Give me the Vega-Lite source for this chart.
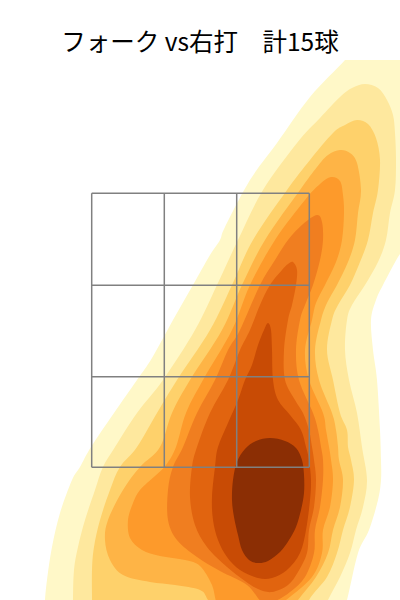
{
  "$schema": "https://vega.github.io/schema/vega-lite/v6.json",
  "width": 400,
  "height": 540,
  "autosize": {"type": "none"},
  "padding": {"top": 60, "left": 0, "right": 0, "bottom": 0},
  "background": "white",
  "config": {"view": {"stroke": null}},
  "title": {"text": "フォーク vs右打　計15球", "font": "Noto Sans CJK JP", "fontSize": 24.5, "fontWeight": "normal", "color": "#000000", "anchor": "middle", "frame": "group", "offset": 8, "baseline": "alphabetic", "dy": 23},
  "datasets": {
    "contours": [
      {"level":1,"i":0,"x":1.60,"y":5.60},{"level":1,"i":1,"x":1.45,"y":5.40},{"level":1,"i":2,"x":1.10,"y":5.03},{"level":1,"i":3,"x":0.77,"y":4.57},{"level":1,"i":4,"x":0.50,"y":4.20},{"level":1,"i":5,"x":0.25,"y":3.73},{"level":1,"i":6,"x":0.20,"y":3.60},{"level":1,"i":7,"x":0.10,"y":3.45},{"level":1,"i":8,"x":-0.07,"y":3.15},{"level":1,"i":9,"x":-0.27,"y":2.80},{"level":1,"i":10,"x":-0.48,"y":2.42},{"level":1,"i":11,"x":-0.63,"y":2.20},{"level":1,"i":12,"x":-0.86,"y":1.87},{"level":1,"i":13,"x":-1.09,"y":1.53},{"level":1,"i":14,"x":-1.20,"y":1.33},{"level":1,"i":15,"x":-1.28,"y":1.20},{"level":1,"i":16,"x":-1.40,"y":0.87},{"level":1,"i":17,"x":-1.48,"y":0.53},{"level":1,"i":18,"x":-1.53,"y":0.20},{"level":1,"i":19,"x":-1.55,"y":0.00},{"level":1,"i":20,"x":-1.56,"y":-0.20},{"level":1,"i":21,"x":0.00,"y":-0.25},{"level":1,"i":22,"x":1.40,"y":-0.20},{"level":1,"i":23,"x":1.47,"y":0.00},{"level":1,"i":24,"x":1.58,"y":0.47},{"level":1,"i":25,"x":1.69,"y":0.70},{"level":1,"i":26,"x":1.78,"y":1.00},{"level":1,"i":27,"x":1.81,"y":1.20},{"level":1,"i":28,"x":1.81,"y":1.40},{"level":1,"i":29,"x":1.80,"y":1.70},{"level":1,"i":30,"x":1.77,"y":2.20},{"level":1,"i":31,"x":1.73,"y":2.50},{"level":1,"i":32,"x":1.71,"y":2.80},{"level":1,"i":33,"x":1.76,"y":3.00},{"level":1,"i":34,"x":1.83,"y":3.15},{"level":1,"i":35,"x":1.98,"y":3.43},{"level":1,"i":36,"x":2.15,"y":3.70},{"level":1,"i":37,"x":2.30,"y":4.50},{"level":1,"i":38,"x":2.20,"y":5.60},{"level":1,"i":39,"x":1.90,"y":5.65},
      {"level":2,"i":0,"x":1.40,"y":5.03},{"level":2,"i":1,"x":1.52,"y":5.12},{"level":2,"i":2,"x":1.65,"y":5.16},{"level":2,"i":3,"x":1.78,"y":5.12},{"level":2,"i":4,"x":1.87,"y":5.00},{"level":2,"i":5,"x":1.93,"y":4.85},{"level":2,"i":6,"x":1.95,"y":4.67},{"level":2,"i":7,"x":1.96,"y":4.40},{"level":2,"i":8,"x":1.95,"y":4.10},{"level":2,"i":9,"x":1.90,"y":3.87},{"level":2,"i":10,"x":1.86,"y":3.60},{"level":2,"i":11,"x":1.78,"y":3.38},{"level":2,"i":12,"x":1.65,"y":3.15},{"level":2,"i":13,"x":1.52,"y":2.95},{"level":2,"i":14,"x":1.47,"y":2.80},{"level":2,"i":15,"x":1.45,"y":2.50},{"level":2,"i":16,"x":1.49,"y":2.20},{"level":2,"i":17,"x":1.57,"y":1.87},{"level":2,"i":18,"x":1.62,"y":1.53},{"level":2,"i":19,"x":1.67,"y":1.20},{"level":2,"i":20,"x":1.63,"y":0.93},{"level":2,"i":21,"x":1.56,"y":0.70},{"level":2,"i":22,"x":1.50,"y":0.47},{"level":2,"i":23,"x":1.40,"y":0.23},{"level":2,"i":24,"x":1.28,"y":0.00},{"level":2,"i":25,"x":1.18,"y":-0.25},{"level":2,"i":26,"x":0.00,"y":-0.35},{"level":2,"i":27,"x":-1.27,"y":-0.25},{"level":2,"i":28,"x":-1.27,"y":0.00},{"level":2,"i":29,"x":-1.26,"y":0.30},{"level":2,"i":30,"x":-1.22,"y":0.53},{"level":2,"i":31,"x":-1.15,"y":0.80},{"level":2,"i":32,"x":-1.05,"y":1.10},{"level":2,"i":33,"x":-0.97,"y":1.33},{"level":2,"i":34,"x":-0.85,"y":1.53},{"level":2,"i":35,"x":-0.63,"y":1.87},{"level":2,"i":36,"x":-0.37,"y":2.20},{"level":2,"i":37,"x":-0.05,"y":2.70},{"level":2,"i":38,"x":0.17,"y":3.15},{"level":2,"i":39,"x":0.38,"y":3.60},{"level":2,"i":40,"x":0.63,"y":4.10},{"level":2,"i":41,"x":0.97,"y":4.57},{"level":2,"i":42,"x":1.20,"y":4.82},
      {"level":3,"i":0,"x":1.57,"y":4.80},{"level":3,"i":1,"x":1.68,"y":4.76},{"level":3,"i":2,"x":1.76,"y":4.62},{"level":3,"i":3,"x":1.80,"y":4.40},{"level":3,"i":4,"x":1.78,"y":4.10},{"level":3,"i":5,"x":1.73,"y":3.87},{"level":3,"i":6,"x":1.68,"y":3.60},{"level":3,"i":7,"x":1.60,"y":3.38},{"level":3,"i":8,"x":1.50,"y":3.15},{"level":3,"i":9,"x":1.38,"y":2.95},{"level":3,"i":10,"x":1.32,"y":2.80},{"level":3,"i":11,"x":1.27,"y":2.50},{"level":3,"i":12,"x":1.33,"y":2.20},{"level":3,"i":13,"x":1.40,"y":1.87},{"level":3,"i":14,"x":1.47,"y":1.70},{"level":3,"i":15,"x":1.48,"y":1.53},{"level":3,"i":16,"x":1.51,"y":1.40},{"level":3,"i":17,"x":1.54,"y":1.20},{"level":3,"i":18,"x":1.50,"y":0.93},{"level":3,"i":19,"x":1.43,"y":0.70},{"level":3,"i":20,"x":1.37,"y":0.47},{"level":3,"i":21,"x":1.27,"y":0.23},{"level":3,"i":22,"x":1.09,"y":0.00},{"level":3,"i":23,"x":1.00,"y":-0.25},{"level":3,"i":24,"x":0.00,"y":-0.32},{"level":3,"i":25,"x":-1.08,"y":-0.25},{"level":3,"i":26,"x":-1.08,"y":0.00},{"level":3,"i":27,"x":-1.08,"y":0.30},{"level":3,"i":28,"x":-1.06,"y":0.53},{"level":3,"i":29,"x":-1.00,"y":0.80},{"level":3,"i":30,"x":-0.90,"y":1.10},{"level":3,"i":31,"x":-0.80,"y":1.33},{"level":3,"i":32,"x":-0.63,"y":1.53},{"level":3,"i":33,"x":-0.43,"y":1.87},{"level":3,"i":34,"x":-0.23,"y":2.20},{"level":3,"i":35,"x":0.10,"y":2.70},{"level":3,"i":36,"x":0.32,"y":3.15},{"level":3,"i":37,"x":0.53,"y":3.60},{"level":3,"i":38,"x":0.87,"y":4.10},{"level":3,"i":39,"x":1.10,"y":4.40},{"level":3,"i":40,"x":1.33,"y":4.67},{"level":3,"i":41,"x":1.45,"y":4.75},
      {"level":4,"i":0,"x":1.40,"y":4.50},{"level":4,"i":1,"x":1.50,"y":4.47},{"level":4,"i":2,"x":1.57,"y":4.37},{"level":4,"i":3,"x":1.61,"y":4.10},{"level":4,"i":4,"x":1.58,"y":3.87},{"level":4,"i":5,"x":1.55,"y":3.60},{"level":4,"i":6,"x":1.48,"y":3.38},{"level":4,"i":7,"x":1.37,"y":3.15},{"level":4,"i":8,"x":1.27,"y":2.97},{"level":4,"i":9,"x":1.21,"y":2.80},{"level":4,"i":10,"x":1.15,"y":2.50},{"level":4,"i":11,"x":1.19,"y":2.20},{"level":4,"i":12,"x":1.32,"y":1.87},{"level":4,"i":13,"x":1.36,"y":1.70},{"level":4,"i":14,"x":1.38,"y":1.53},{"level":4,"i":15,"x":1.39,"y":1.40},{"level":4,"i":16,"x":1.43,"y":1.20},{"level":4,"i":17,"x":1.40,"y":0.93},{"level":4,"i":18,"x":1.33,"y":0.70},{"level":4,"i":19,"x":1.28,"y":0.47},{"level":4,"i":20,"x":1.16,"y":0.23},{"level":4,"i":21,"x":0.98,"y":0.00},{"level":4,"i":22,"x":0.85,"y":-0.20},{"level":4,"i":23,"x":0.20,"y":-0.22},{"level":4,"i":24,"x":0.08,"y":0.00},{"level":4,"i":25,"x":0.00,"y":0.10},{"level":4,"i":26,"x":-0.25,"y":0.15},{"level":4,"i":27,"x":-0.50,"y":0.18},{"level":4,"i":28,"x":-0.77,"y":0.25},{"level":4,"i":29,"x":-0.90,"y":0.40},{"level":4,"i":30,"x":-0.95,"y":0.60},{"level":4,"i":31,"x":-0.92,"y":0.80},{"level":4,"i":32,"x":-0.77,"y":1.10},{"level":4,"i":33,"x":-0.60,"y":1.33},{"level":4,"i":34,"x":-0.40,"y":1.53},{"level":4,"i":35,"x":-0.28,"y":1.87},{"level":4,"i":36,"x":-0.10,"y":2.20},{"level":4,"i":37,"x":0.22,"y":2.70},{"level":4,"i":38,"x":0.42,"y":3.15},{"level":4,"i":39,"x":0.65,"y":3.60},{"level":4,"i":40,"x":1.00,"y":4.10},{"level":4,"i":41,"x":1.17,"y":4.33},{"level":4,"i":42,"x":1.28,"y":4.45},
      {"level":5,"i":0,"x":1.31,"y":4.23},{"level":5,"i":1,"x":1.40,"y":4.19},{"level":5,"i":2,"x":1.43,"y":4.05},{"level":5,"i":3,"x":1.44,"y":3.87},{"level":5,"i":4,"x":1.42,"y":3.60},{"level":5,"i":5,"x":1.36,"y":3.38},{"level":5,"i":6,"x":1.25,"y":3.15},{"level":5,"i":7,"x":1.16,"y":2.97},{"level":5,"i":8,"x":1.12,"y":2.80},{"level":5,"i":9,"x":1.05,"y":2.50},{"level":5,"i":10,"x":1.09,"y":2.20},{"level":5,"i":11,"x":1.23,"y":1.87},{"level":5,"i":12,"x":1.26,"y":1.70},{"level":5,"i":13,"x":1.29,"y":1.53},{"level":5,"i":14,"x":1.31,"y":1.40},{"level":5,"i":15,"x":1.33,"y":1.20},{"level":5,"i":16,"x":1.30,"y":0.93},{"level":5,"i":17,"x":1.23,"y":0.70},{"level":5,"i":18,"x":1.22,"y":0.47},{"level":5,"i":19,"x":1.12,"y":0.23},{"level":5,"i":20,"x":0.86,"y":0.00},{"level":5,"i":21,"x":0.68,"y":-0.12},{"level":5,"i":22,"x":0.35,"y":-0.14},{"level":5,"i":23,"x":0.18,"y":-0.05},{"level":5,"i":24,"x":0.12,"y":0.15},{"level":5,"i":25,"x":0.00,"y":0.34},{"level":5,"i":26,"x":-0.15,"y":0.40},{"level":5,"i":27,"x":-0.40,"y":0.44},{"level":5,"i":28,"x":-0.58,"y":0.50},{"level":5,"i":29,"x":-0.70,"y":0.62},{"level":5,"i":30,"x":-0.72,"y":0.80},{"level":5,"i":31,"x":-0.67,"y":0.97},{"level":5,"i":32,"x":-0.60,"y":1.10},{"level":5,"i":33,"x":-0.45,"y":1.24},{"level":5,"i":34,"x":-0.34,"y":1.35},{"level":5,"i":35,"x":-0.24,"y":1.53},{"level":5,"i":36,"x":-0.14,"y":1.87},{"level":5,"i":37,"x":0.03,"y":2.20},{"level":5,"i":38,"x":0.32,"y":2.70},{"level":5,"i":39,"x":0.50,"y":3.15},{"level":5,"i":40,"x":0.75,"y":3.60},{"level":5,"i":41,"x":1.05,"y":4.00},{"level":5,"i":42,"x":1.20,"y":4.16},
      {"level":6,"i":0,"x":1.17,"y":3.85},{"level":6,"i":1,"x":1.22,"y":3.78},{"level":6,"i":2,"x":1.23,"y":3.60},{"level":6,"i":3,"x":1.20,"y":3.40},{"level":6,"i":4,"x":1.13,"y":3.15},{"level":6,"i":5,"x":1.05,"y":2.95},{"level":6,"i":6,"x":1.00,"y":2.80},{"level":6,"i":7,"x":0.96,"y":2.50},{"level":6,"i":8,"x":0.99,"y":2.20},{"level":6,"i":9,"x":1.13,"y":1.87},{"level":6,"i":10,"x":1.18,"y":1.70},{"level":6,"i":11,"x":1.21,"y":1.53},{"level":6,"i":12,"x":1.23,"y":1.40},{"level":6,"i":13,"x":1.23,"y":1.20},{"level":6,"i":14,"x":1.20,"y":0.93},{"level":6,"i":15,"x":1.15,"y":0.70},{"level":6,"i":16,"x":1.14,"y":0.47},{"level":6,"i":17,"x":1.05,"y":0.23},{"level":6,"i":18,"x":0.90,"y":0.08},{"level":6,"i":19,"x":0.75,"y":-0.01},{"level":6,"i":20,"x":0.62,"y":-0.02},{"level":6,"i":21,"x":0.47,"y":0.15},{"level":6,"i":22,"x":0.20,"y":0.29},{"level":6,"i":23,"x":-0.03,"y":0.43},{"level":6,"i":24,"x":-0.23,"y":0.60},{"level":6,"i":25,"x":-0.32,"y":0.80},{"level":6,"i":26,"x":-0.32,"y":1.10},{"level":6,"i":27,"x":-0.27,"y":1.33},{"level":6,"i":28,"x":-0.17,"y":1.53},{"level":6,"i":29,"x":-0.03,"y":1.87},{"level":6,"i":30,"x":0.15,"y":2.20},{"level":6,"i":31,"x":0.28,"y":2.50},{"level":6,"i":32,"x":0.40,"y":2.70},{"level":6,"i":33,"x":0.60,"y":3.15},{"level":6,"i":34,"x":0.75,"y":3.40},{"level":6,"i":35,"x":0.88,"y":3.60},{"level":6,"i":36,"x":1.03,"y":3.76},
      {"level":7,"i":0,"x":0.93,"y":3.38},{"level":7,"i":1,"x":0.97,"y":3.30},{"level":7,"i":2,"x":0.96,"y":3.15},{"level":7,"i":3,"x":0.92,"y":2.95},{"level":7,"i":4,"x":0.88,"y":2.80},{"level":7,"i":5,"x":0.84,"y":2.50},{"level":7,"i":6,"x":0.85,"y":2.20},{"level":7,"i":7,"x":0.95,"y":2.00},{"level":7,"i":8,"x":1.03,"y":1.87},{"level":7,"i":9,"x":1.09,"y":1.70},{"level":7,"i":10,"x":1.12,"y":1.53},{"level":7,"i":11,"x":1.14,"y":1.40},{"level":7,"i":12,"x":1.16,"y":1.20},{"level":7,"i":13,"x":1.14,"y":0.93},{"level":7,"i":14,"x":1.09,"y":0.70},{"level":7,"i":15,"x":1.07,"y":0.47},{"level":7,"i":16,"x":0.98,"y":0.28},{"level":7,"i":17,"x":0.88,"y":0.15},{"level":7,"i":18,"x":0.72,"y":0.08},{"level":7,"i":19,"x":0.58,"y":0.11},{"level":7,"i":20,"x":0.45,"y":0.19},{"level":7,"i":21,"x":0.27,"y":0.33},{"level":7,"i":22,"x":0.07,"y":0.53},{"level":7,"i":23,"x":-0.05,"y":0.75},{"level":7,"i":24,"x":-0.10,"y":1.03},{"level":7,"i":25,"x":-0.08,"y":1.33},{"level":7,"i":26,"x":-0.03,"y":1.53},{"level":7,"i":27,"x":0.10,"y":1.87},{"level":7,"i":28,"x":0.28,"y":2.20},{"level":7,"i":29,"x":0.40,"y":2.50},{"level":7,"i":30,"x":0.50,"y":2.70},{"level":7,"i":31,"x":0.60,"y":2.95},{"level":7,"i":32,"x":0.70,"y":3.15},{"level":7,"i":33,"x":0.82,"y":3.30},{"level":7,"i":34,"x":0.88,"y":3.36},
      {"level":8,"i":0,"x":0.68,"y":2.77},{"level":8,"i":1,"x":0.71,"y":2.70},{"level":8,"i":2,"x":0.72,"y":2.50},{"level":8,"i":3,"x":0.73,"y":2.20},{"level":8,"i":4,"x":0.78,"y":2.00},{"level":8,"i":5,"x":0.90,"y":1.85},{"level":8,"i":6,"x":1.01,"y":1.70},{"level":8,"i":7,"x":1.06,"y":1.53},{"level":8,"i":8,"x":1.09,"y":1.40},{"level":8,"i":9,"x":1.11,"y":1.20},{"level":8,"i":10,"x":1.10,"y":1.00},{"level":8,"i":11,"x":1.06,"y":0.70},{"level":8,"i":12,"x":1.00,"y":0.47},{"level":8,"i":13,"x":0.87,"y":0.30},{"level":8,"i":14,"x":0.72,"y":0.22},{"level":8,"i":15,"x":0.58,"y":0.22},{"level":8,"i":16,"x":0.40,"y":0.30},{"level":8,"i":17,"x":0.27,"y":0.43},{"level":8,"i":18,"x":0.18,"y":0.60},{"level":8,"i":19,"x":0.13,"y":0.80},{"level":8,"i":20,"x":0.12,"y":1.03},{"level":8,"i":21,"x":0.15,"y":1.33},{"level":8,"i":22,"x":0.18,"y":1.53},{"level":8,"i":23,"x":0.28,"y":1.77},{"level":8,"i":24,"x":0.38,"y":2.00},{"level":8,"i":25,"x":0.45,"y":2.20},{"level":8,"i":26,"x":0.52,"y":2.35},{"level":8,"i":27,"x":0.58,"y":2.55},{"level":8,"i":28,"x":0.64,"y":2.70},
      {"level":9,"i":0,"x":0.70,"y":1.62},{"level":9,"i":1,"x":0.85,"y":1.59},{"level":9,"i":2,"x":0.96,"y":1.52},{"level":9,"i":3,"x":1.02,"y":1.40},{"level":9,"i":4,"x":1.04,"y":1.25},{"level":9,"i":5,"x":1.04,"y":1.07},{"level":9,"i":6,"x":1.01,"y":0.90},{"level":9,"i":7,"x":0.96,"y":0.73},{"level":9,"i":8,"x":0.89,"y":0.60},{"level":9,"i":9,"x":0.80,"y":0.48},{"level":9,"i":10,"x":0.68,"y":0.39},{"level":9,"i":11,"x":0.58,"y":0.37},{"level":9,"i":12,"x":0.49,"y":0.40},{"level":9,"i":13,"x":0.42,"y":0.50},{"level":9,"i":14,"x":0.38,"y":0.65},{"level":9,"i":15,"x":0.34,"y":0.83},{"level":9,"i":16,"x":0.32,"y":1.00},{"level":9,"i":17,"x":0.33,"y":1.20},{"level":9,"i":18,"x":0.37,"y":1.38},{"level":9,"i":19,"x":0.45,"y":1.51},{"level":9,"i":20,"x":0.56,"y":1.59}
    ],
    "zone": [
      {"x":-1.083,"x2":-1.083,"y":1.327,"y2":4.067},
      {"x":-0.357,"x2":-0.357,"y":1.327,"y2":4.067},
      {"x":0.367,"x2":0.367,"y":1.327,"y2":4.067},
      {"x":1.093,"x2":1.093,"y":1.327,"y2":4.067},
      {"x":-1.083,"x2":1.093,"y":1.327,"y2":1.327},
      {"x":-1.083,"x2":1.093,"y":2.233,"y2":2.233},
      {"x":-1.083,"x2":1.093,"y":3.147,"y2":3.147},
      {"x":-1.083,"x2":1.093,"y":4.067,"y2":4.067}
    ]
  },
  "encoding": {
    "x": {"field": "x", "type": "quantitative", "scale": {"domain": [-2, 2], "nice": false, "zero": false}, "axis": null},
    "y": {"field": "y", "type": "quantitative", "scale": {"domain": [0, 5.4], "nice": false, "zero": false}, "axis": null}
  },
  "layer": [
    {"data": {"name": "contours"}, "transform": [{"filter": "datum.level === 1"}], "mark": {"type": "line", "filled": true, "color": "#fff8c8", "strokeWidth": 0, "interpolate": "cardinal-closed", "clip": true}, "encoding": {"order": {"field": "i", "type": "quantitative"}}},
    {"data": {"name": "contours"}, "transform": [{"filter": "datum.level === 2"}], "mark": {"type": "line", "filled": true, "color": "#fee89e", "strokeWidth": 0, "interpolate": "cardinal-closed", "clip": true}, "encoding": {"order": {"field": "i", "type": "quantitative"}}},
    {"data": {"name": "contours"}, "transform": [{"filter": "datum.level === 3"}], "mark": {"type": "line", "filled": true, "color": "#fed16b", "strokeWidth": 0, "interpolate": "cardinal-closed", "clip": true}, "encoding": {"order": {"field": "i", "type": "quantitative"}}},
    {"data": {"name": "contours"}, "transform": [{"filter": "datum.level === 4"}], "mark": {"type": "line", "filled": true, "color": "#feb446", "strokeWidth": 0, "interpolate": "cardinal-closed", "clip": true}, "encoding": {"order": {"field": "i", "type": "quantitative"}}},
    {"data": {"name": "contours"}, "transform": [{"filter": "datum.level === 5"}], "mark": {"type": "line", "filled": true, "color": "#fd9a2b", "strokeWidth": 0, "interpolate": "cardinal-closed", "clip": true}, "encoding": {"order": {"field": "i", "type": "quantitative"}}},
    {"data": {"name": "contours"}, "transform": [{"filter": "datum.level === 6"}], "mark": {"type": "line", "filled": true, "color": "#f07e20", "strokeWidth": 0, "interpolate": "cardinal-closed", "clip": true}, "encoding": {"order": {"field": "i", "type": "quantitative"}}},
    {"data": {"name": "contours"}, "transform": [{"filter": "datum.level === 7"}], "mark": {"type": "line", "filled": true, "color": "#e1640f", "strokeWidth": 0, "interpolate": "cardinal-closed", "clip": true}, "encoding": {"order": {"field": "i", "type": "quantitative"}}},
    {"data": {"name": "contours"}, "transform": [{"filter": "datum.level === 8"}], "mark": {"type": "line", "filled": true, "color": "#c84b05", "strokeWidth": 0, "interpolate": "cardinal-closed", "clip": true}, "encoding": {"order": {"field": "i", "type": "quantitative"}}},
    {"data": {"name": "contours"}, "transform": [{"filter": "datum.level === 9"}], "mark": {"type": "line", "filled": true, "color": "#8b2e04", "strokeWidth": 0, "interpolate": "cardinal-closed", "clip": true}, "encoding": {"order": {"field": "i", "type": "quantitative"}}},
    {"data": {"name": "zone"}, "mark": {"type": "rule", "color": "#808080", "strokeWidth": 1.5}, "encoding": {"x2": {"field": "x2"}, "y2": {"field": "y2"}}}
  ]
}
